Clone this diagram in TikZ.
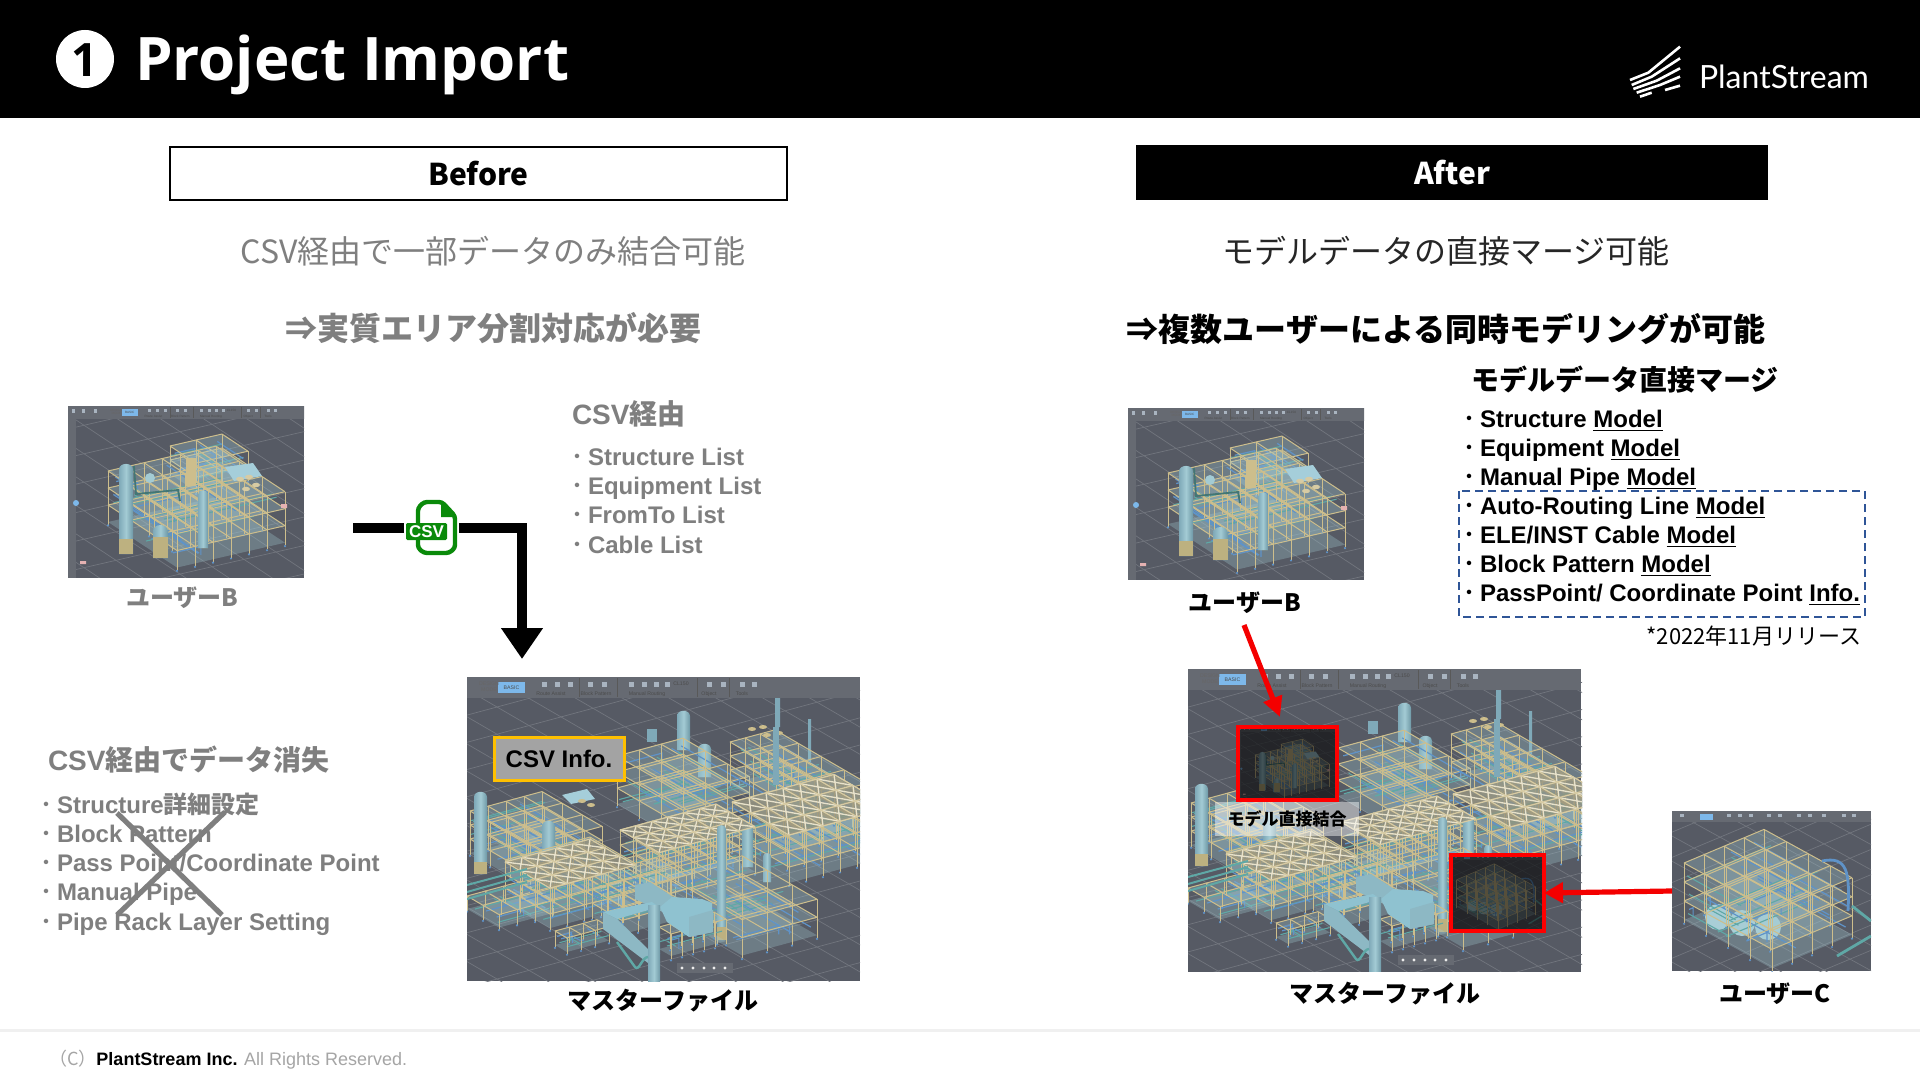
\documentclass[tikz,border=0pt]{standalone}
\usepackage{fontspec}
\setmainfont{Liberation Sans}
\newfontfamily\jp{Noto Sans CJK JP}
\newfontfamily\ttl{Open Sans}
\newfontfamily\lgo{Lato}
\usetikzlibrary{arrows.meta}
\newcommand\jb{\jp\bfseries}
\newcommand\fs[1]{\fontsize{#1}{#1}\selectfont}
\newcommand\bl{\makebox[11.5pt][l]{\hspace*{2pt}\raisebox{1.5pt}{\jb\fs{8}・}}}
\definecolor{scrbg}{HTML}{565A64}
\definecolor{scrbar}{HTML}{666A72}
\definecolor{gridc}{HTML}{72767E}
\definecolor{beamc}{HTML}{CDBE8C}
\definecolor{teal1}{HTML}{5FA8A6}
\definecolor{blue1}{HTML}{5F93C8}
\definecolor{vesL}{HTML}{7FA9B8}
\definecolor{vesR}{HTML}{6E98A6}
\definecolor{vesM}{HTML}{A3CBD4}
\definecolor{tanv}{HTML}{BDB180}
\definecolor{duct}{HTML}{8FC2D0}
\definecolor{gtxt}{HTML}{7F7F7F}
\definecolor{dashb}{HTML}{2F5597}
\definecolor{csvg}{HTML}{0A8A0A}
\definecolor{gold}{HTML}{FFC000}
\definecolor{redm}{HTML}{F40000}
\definecolor{btn}{HTML}{7DB8EA}
\definecolor{icn}{HTML}{A9B4C0}
\def\pw{1}
\tikzset{
  txt/.style={inner sep=0pt,outer sep=0pt},
  beam/.style={draw=beamc,line width=\pw*0.5pt},
  pipeT/.style={draw=teal1,line width=\pw*0.55pt},
  pipeB/.style={draw=blue1,line width=\pw*0.6pt},
  floorf/.style={fill=vesM,fill opacity=0.3},
  grd/.style={draw=gridc,line width=\pw*0.35pt},
  lst/.style={txt,anchor=base west,font=\fs{12}\bfseries},
  glst/.style={lst,text=gtxt},
  tbtxt/.style={txt,transform shape,text=black!70,font=\fs{2.6}},
}
% iso rack: ox oy nu nv nz cu cv ch
\newcommand\rk[8]{%
 \begin{scope}[shift={(#1,#2)},x={({\ux*#6*0.5pt},{-\uy*#6*0.5pt})},y={({\vx*#7*0.5pt},{-\vy*#7*0.5pt})},z={(0pt,{#8*0.5pt})}]
  \foreach \k in {0,...,#5}{\fill[floorf] (0,0,\k)--(#3,0,\k)--(#3,#4,\k)--(0,#4,\k)--cycle;}
  \foreach \rep in {1,2}{\foreach \k in {0,...,#5}{%
   \pgfmathsetmacro\ra{rnd*#4}\pgfmathsetmacro\rb{rnd*#3}\pgfmathsetmacro\rc{rnd*#4}\pgfmathsetmacro\rd{rnd*#3}%
   \ifnum\k<#5
   \draw[pipeT] (0,\ra,\k+.35)--(#3,\ra,\k+.35);
   \draw[pipeB] (\rb,0,\k+.55)--(\rb,#4,\k+.55);
   \draw[pipeB] (0,\rc,\k+.7)--(\rd,\rc,\k+.7)--(\rd,\rc,\k+.2);
   \draw[pipeT] (\rd,0,\k+.25)--(\rd,\ra,\k+.25);
   \fi}}
  \foreach \i in {0,...,#3}{\foreach \j in {0,...,#4}{%
    \draw[beam] (\i,\j,-.15)--(\i,\j,#5);
    \fill[blue1] (\i,\j,-.2) circle[radius=\pw*0.6pt];}}
  \foreach \k in {1,...,#5}{%
   \foreach \i in {0,...,#3}{\draw[beam] (\i,0,\k)--(\i,#4,\k);}
   \foreach \j in {0,...,#4}{\draw[beam] (0,\j,\k)--(#3,\j,\k);}}
 \end{scope}}
% truss roof: ox oy nu nv cu cv
\newcommand\truss[6]{%
 \begin{scope}[shift={(#1,#2)},x={({\ux*#5*0.5pt},{-\uy*#5*0.5pt})},y={({\vx*#6*0.5pt},{-\vy*#6*0.5pt})}]
  \fill[fill=scrbg!45!beamc,fill opacity=.75] (0,0)--(#3,0)--(#3,#4)--(0,#4)--cycle;
  \pgfmathtruncatemacro\nnu{#3-1}\pgfmathtruncatemacro\nnv{#4-1}
  \foreach \i in {0,...,\nnu}{\foreach \j in {0,...,\nnv}{%
    \draw[draw=beamc!45!white,line width=\pw*0.65pt] (\i,\j)--(\i+1,\j+1) (\i+1,\j)--(\i,\j+1);}}
  \foreach \i in {0,...,#3}{\draw[draw=beamc!80!white,line width=\pw*0.6pt] (\i,0)--(\i,#4);}
  \foreach \j in {0,...,#4}{\draw[draw=beamc!80!white,line width=\pw*0.6pt] (0,\j)--(#3,\j);}
 \end{scope}}
% vessel: x1 x2 top bottom tantop
\newcommand\ves[5]{%
 \pgfmathsetmacro\rr{(#2-#1)*0.55}
 \shade[left color=vesL,right color=vesR,middle color=vesM] (#1,#4)--(#1,#3+\rr) .. controls (#1,#3) and (#2,#3) .. (#2,#3+\rr)--(#2,#4)--cycle;
 \fill[tanv] (#1,#5) rectangle (#2,#4);}
\newcommand\scrgrid[1]{%
 \begin{scope}[x={({\ux*#1*0.5pt},{-\uy*#1*0.5pt})},y={({\vx*#1*0.5pt},{-\vy*#1*0.5pt})}]
  \foreach \t in {-14,...,14}{\draw[grd] (\t,-20)--(\t,20);\draw[grd] (-20,\t)--(20,\t);}
 \end{scope}}
% toolbar in master scale
\newcommand\toolbar[1]{%
 \fill[scrbar] (0,0) rectangle (#1,21);
 \fill[btn] (31,5) rectangle (58,16);
 \node[tbtxt] (tbb) at (44.5,10.5) {BASIC};
 \node[tbtxt,text=black!60] (tbd) at (22,10.5) {\begin{tabular}{@{}c@{}}DESIGN\\MODE\end{tabular}};
 \foreach \x in {75,88,101,121,135,162,175,187,198,240,254,273,285}{\fill[icn] (\x,5) rectangle ++(5,5);}
 \node[tbtxt] (tb1) at (84,17) {Route Assist};
 \node[tbtxt] (tb2) at (129,17) {Block Pattern};
 \node[tbtxt] (tb3) at (180,17) {Manual Routing};
 \node[tbtxt] (tb4) at (242,17) {Object};
 \node[tbtxt] (tb5) at (275,17) {Tools};
 \node[tbtxt] (tb6) at (214,7) {CL150};
 \foreach \x in {112,150,230,262}{\draw[gray!70!black,line width=.2pt] (\x,1)--(\x,20);}}
\newcommand\sceneB{%
 \def\ux{1}\def\uy{-0.23}\def\vx{1}\def\vy{0.66}
 \pgfmathsetseed{11}
 \fill[scrbg] (0,0) rectangle (236,172);
 \begin{scope}[shift={(80,90)}]\scrgrid{32}\end{scope}
 \rk{102}{68}{2}{1}{2}{26}{26}{14}
 \rk{40}{116}{6}{3}{3}{18}{23}{17}
 \fill[duct!80!white] (157,61)--(185,57)--(194,70)--(166,75)--cycle;
 \fill[beamc!80!white] (172,73) circle[x radius=4,y radius=2.2] (181,71) circle[x radius=4,y radius=2.2] (178,83) circle[x radius=4,y radius=2.2] (188,79) circle[x radius=4,y radius=2.2];
 \draw[teal1!70!black,line width=\pw*.9pt] (66,60)--(68,88)--(110,84)--(112,95);
 \ves{51}{65}{56}{148}{133}
 \ves{85}{100}{117}{152}{131}
 \ves{130}{140}{83}{142}{142}
 \fill[vesM] (82,72) circle[radius=5];
 \fill[beamc] (118,52) rectangle (128,80);
 \fill[pink!80!gray] (213,98) rectangle (219,102) (12,155) rectangle (18,158);
 \fill[scrbar] (0,0) rectangle (8,172);
 \begin{scope}[shift={(35,0)},scale=.6]\toolbar{340}\end{scope}
 \fill[scrbar] (0,0) rectangle (36,12.6);
 \foreach \x in {4,14,26}{\fill[icn] (\x,3) rectangle ++(3,4);}
 \begin{scope}[shift={(35,0)},scale=.6]\fill[btn] (31,5) rectangle (58,16);\node[tbtxt] (tbbb) at (44.5,10.5) {BASIC};\end{scope}
 \fill[btn] (8,97) circle[radius=3];}
\newcommand\sceneC{%
 \def\ux{1}\def\uy{-0.42}\def\vx{1}\def\vy{0.55}
 \pgfmathsetseed{5}
 \fill[scrbg] (0,0) rectangle (199,160);
 \begin{scope}[shift={(100,80)}]\scrgrid{26}\end{scope}
 \foreach \a/\b in {46/106,70/112,96/116}{\fill[vesM!90!white] (\a,\b) circle[x radius=13,y radius=13];}
 \rk{12}{109}{4}{4}{3}{20}{22}{19}
 \draw[blue1,line width=\pw*1.4pt] (150,50) .. controls (175,45) and (178,60) .. (176,100);
 \draw[teal1,line width=\pw*1.4pt] (180,95)--(199,110) (165,145)--(199,125);
 \fill[scrbar] (0,0) rectangle (199,11);
 \fill[btn] (28,3) rectangle (41,9);
 \foreach \x in {8,55,66,77,95,106,125,136,150,170,180}{\fill[icn] (\x,3) rectangle ++(4,3);}}
\newcommand\masterscene{%
 \def\ux{1}\def\uy{-0.27}\def\vx{1}\def\vy{0.58}
 \pgfmathsetseed{3}
 \fill[scrbg] (0,0) rectangle (393,304);
 \begin{scope}[shift={(190,150)}]\scrgrid{32}\end{scope}
 \ves{210}{223}{32}{73}{73}
 \ves{231}{244}{65}{100}{100}
 \fill[vesL] (308,21) rectangle (313,50) (341,42) rectangle (344,87);
 \fill[vesL] (180,52) rectangle (190,65);
 \rk{150}{127}{3}{3}{3}{22}{22}{16}
 \rk{263}{107}{3}{4}{3}{15}{23}{14}
 \fill[beamc] (285,52) circle[x radius=4,y radius=2] (296,50) circle[x radius=4,y radius=2] (300,58) circle[x radius=4,y radius=2] (312,56) circle[x radius=4,y radius=2];
 \fill[vesL] (306,50) rectangle (312,108);
 \rk{3}{176}{4}{3}{3}{18}{20}{14}
 \fill[duct!80!white] (95,118)--(120,112)--(128,122)--(104,127)--cycle;
 \fill[beamc] (115,124) circle[x radius=4,y radius=2] (124,128) circle[x radius=4,y radius=2];
 \ves{7}{20}{113}{197}{185}
 \ves{75}{88}{142}{175}{175}
 \rk{265}{173}{6}{3}{3}{17}{19}{16}
 \rk{153}{198}{6}{3}{3}{16}{13}{15}
 \ves{275}{286}{145}{190}{190}
 \ves{296}{304}{175}{205}{205}
 \rk{200}{235}{3}{3}{2}{25}{25}{18}
 \rk{0}{232}{3}{2}{1}{18}{16}{13}
 \rk{38}{225}{5}{3}{3}{17}{15}{14}
 \rk{125}{240}{4}{2}{3}{16}{15}{14}
 \truss{265}{125}{6}{3}{17}{19}
 \truss{153}{153}{6}{3}{16}{13}
 \truss{38}{185}{5}{3}{17}{15}
 \draw[teal1,line width=\pw*1pt] (0,215)--(60,198) (0,222)--(60,205) (0,208)--(60,192);
 \ves{250}{259}{147}{263}{250}
 \rk{88}{268}{3}{1}{1}{14}{12}{14}
 \rk{192}{272}{5}{1}{1}{11}{12}{22}
 \fill[duct!85!gray] (168,208)--(183,205)--(206,220)--(206,240)--(190,232)--(168,222)--cycle;
 \fill[duct] (193,230)--(205,220)--(235,222)--(245,226)--(246,255)--(222,260)--(200,245)--cycle;
 \fill[duct!85!gray] (222,240)--(246,233)--(246,255)--(222,260)--cycle;
 \fill[duct] (136,235)--(185,225)--(192,230)--(150,242)--cycle;
 \fill[duct!85!gray] (136,235)--(150,242)--(181,272)--(181,286)--(136,252)--cycle;
 \shade[left color=vesL,right color=vesR,middle color=vesM] (181,228) rectangle (193,304);
 \draw[teal1,line width=\pw*1.2pt] (150,265)--(168,290)..controls (172,295) and (175,280)..(181,280);
 \fill[scrbar] (210,286) rectangle (266,296);
 \foreach \x in {215,226,237,247,258}{\fill[white!85!gray] (\x,291) circle[radius=1.6];}
 \toolbar{393}}
\begin{document}
\begin{tikzpicture}[x=0.5pt,y=-0.5pt]
\useasboundingbox (0,0) rectangle (1920,1080);
\fill[white] (0,0) rectangle (1920,1080);
% header
\fill[black] (0,0) rectangle (1920,118);
\fill[white] (85,59) circle[radius=29];
\node[txt,text=black,font=\ttl\bfseries\fs{23}] (num) at (85,60) {1};
\node[txt,anchor=base west,text=white,font=\ttl\bfseries\fs{30}] (title) at (135,81) {Project Import};
\node[txt,anchor=base west,text=white,font=\lgo\fs{16}] (logotext) at (1699,89) {PlantStream};
\begin{scope}[white,line width=1.3pt,line join=round,shift={(1580,20)},x=0.1667pt,y=-0.1667pt]
 \draw (150,180)--(205,158)--(300,80);
 \draw (155,195)--(215,170)--(300,115);
 \draw (160,207)--(230,182)--(300,145);
 \draw (170,218)--(240,195)--(300,170);
 \draw (180,230)--(215,218) (255,210)--(300,197);
\end{scope}
% headers
\node[txt,draw=black,line width=1pt,fill=white,minimum width=308.5pt,minimum height=26.5pt,font=\jb\fs{15}] (before) at (478.5,173.5) {Before};
\node[txt,fill=black,text=white,minimum width=316pt,minimum height=27.5pt,font=\jb\fs{15}] (after) at (1452,173) {After};
\node[txt,text=gtxt,font=\jp\fs{16}] (h1) at (493,251) {CSV経由で一部データのみ結合可能};
\node[txt,text=gtxt,font=\jb\fs{16}] (h2) at (493,328) {⇒実質エリア分割対応が必要};
\node[txt,text=black!85,font=\jp\fs{16}] (h3) at (1446,251) {モデルデータの直接マージ可能};
\node[txt,text=black,font=\jb\fs{16}] (h4) at (1446,329) {⇒複数ユーザーによる同時モデリングが可能};
% before user B
\begin{scope}[shift={(68,406)}]\clip (0,0) rectangle (236,171);\sceneB\end{scope}
\node[txt,minimum width=118pt,minimum height=85.5pt] (userBa) at (186,491.5) {};
\node[txt,text=gtxt,font=\jb\fs{12}] (userBalabel) at (182.5,598) {ユーザーB};
% CSV list
\node[txt,anchor=west,text=gtxt,font=\fs{14}\bfseries] (csvh) at (572,414) {CSV{\jb 経由}};
\node[glst] (c1) at (565,465) {\bl Structure List};
\node[glst] (c2) at (565,494) {\bl Equipment List};
\node[glst] (c3) at (565,523) {\bl FromTo List};
\node[glst] (c4) at (565,553) {\bl Cable List};
% master left
\begin{scope}[shift={(467,677)}]\clip (0,0) rectangle (393,304);\masterscene\end{scope}
\node[txt,minimum width=196.5pt,minimum height=152pt] (masterA) at (663.5,829) {};
\node[txt,draw=gold,line width=1.5pt,fill=gray!72!white,minimum width=65pt,minimum height=21.5pt,font=\fs{12}\bfseries] (csvinfo) at (559,758.5) {CSV Info.};
\node[txt,text=black,font=\jb\fs{12}] (masterAlabel) at (663,1001) {マスターファイル};
% CSV arrow
\coordinate (cstart) at (353,528);
\coordinate (ctip) at (522,659);
\node[txt,minimum width=27.5pt,minimum height=28pt] (csvicon) at (431.5,528) {};
\draw[black,line width=4.75pt] (cstart)--(csvicon.west);
\draw[black,line width=4.75pt,-{Triangle[length=15.5pt,width=20pt]}] (csvicon.east) -| (ctip);
\draw[csvg,line width=2.2pt,line join=round,rounded corners=1.5pt,fill=white] (424,502)--(442,502)--(455,516)--(455,548)--(449,553)--(424,553)--(418,548)--(418,508)--cycle;
\fill[csvg] (441,501)--(456,517)--(441,517)--cycle;
\fill[csvg,rounded corners=.7pt] (406,523) rectangle (447,540);
\node[txt,text=white,font=\fs{8.5}\bfseries] (csvtext) at (426.5,531.5) {CSV};
% lost data list
\node[txt,anchor=west,text=gtxt,font=\fs{14}\bfseries] (losth) at (48,760) {CSV{\jb 経由でデータ消失}};
\node[glst] (l1) at (34,813) {\bl Structure{\jb 詳細設定}};
\node[glst] (l2) at (34,842) {\bl Block Pattern};
\node[glst] (l3) at (34,871) {\bl Pass Point/Coordinate Point};
\node[glst] (l4) at (34,900) {\bl Manual Pipe};
\node[glst] (l5) at (34,930) {\bl Pipe Rack Layer Setting};
\coordinate (xa) at (117,813);\coordinate (xb) at (222,915);\coordinate (xc) at (225,812);\coordinate (xd) at (117,915);
\draw[gtxt,line width=2.6pt] (xa)--(xb) (xc)--(xd);
% after user B
\begin{scope}[shift={(1128,408)}]\clip (0,0) rectangle (236,171);\sceneB\end{scope}
\node[txt,text=black,font=\jb\fs{12}] (userBblabel) at (1245,603) {ユーザーB};
% right list
\node[txt,text=black,font=\jb\fs{14}] (mh) at (1625,380) {モデルデータ直接マージ};
\node[lst] (r1) at (1457,427) {\bl Structure \underline{Model}};
\node[lst] (r2) at (1457,456) {\bl Equipment \underline{Model}};
\node[lst] (r3) at (1457,485.5) {\bl Manual Pipe \underline{Model}};
\node[lst] (r4) at (1457,514) {\bl Auto-Routing Line \underline{Model}};
\node[lst] (r5) at (1457,543) {\bl ELE/INST Cable \underline{Model}};
\node[lst] (r6) at (1457,572) {\bl Block Pattern \underline{Model}};
\node[lst] (r7) at (1457,601) {\bl PassPoint/ Coordinate Point \underline{Info.}};
\draw[dashb,line width=1pt,dash pattern=on 4pt off 2.5pt] (1459,491) rectangle (1865,617);
\node[txt,anchor=east,text=black,font=\jp\fs{11}] (rel) at (1861,636) {*2022年11月リリース};
% master right
\begin{scope}[shift={(1188,669)}]\clip (0,0) rectangle (394,302);\masterscene\end{scope}
\node[txt,minimum width=197pt,minimum height=151pt] (masterB) at (1385,820) {};
\node[txt,text=black,font=\jb\fs{12}] (masterBlabel) at (1385,994) {マスターファイル};
% insets
\begin{scope}[shift={(1238,727)},xscale=.42,yscale=.43]\def\pw{.45}\clip (0,0) rectangle (236,172);\sceneB\fill[black,opacity=.58] (0,0) rectangle (236,172);\end{scope}
\draw[red,line width=1.6pt] (1238,727) rectangle (1337,800);
\node[txt,fill=white,fill opacity=.45,text opacity=1,minimum width=72pt,minimum height=17pt,font=\jb\fs{8.5}] (direct) at (1287,819) {モデル直接結合};
\begin{scope}[shift={(1451,855)},xscale=.47,yscale=.475]\def\pw{.45}\clip (0,0) rectangle (199,160);\sceneC\fill[black,opacity=.58] (0,0) rectangle (199,160);\end{scope}
\draw[red,line width=1.6pt] (1451,855) rectangle (1544,931);
\node[txt,minimum width=46.5pt,minimum height=38pt] (insetB) at (1497.5,893) {};
\node[txt,minimum width=49.5pt,minimum height=36.5pt] (insetA) at (1287.5,763.5) {};
% user C
\begin{scope}[shift={(1672,811)}]\clip (0,0) rectangle (199,160);\sceneC\end{scope}
\node[txt,minimum width=99.5pt,minimum height=80pt] (userC) at (1771.5,891) {};
\node[txt,text=black,font=\jb\fs{12}] (userClabel) at (1775,994) {ユーザーC};
% red arrows
\coordinate (ra) at (1244,625);\coordinate (rb) at (1280,717);
\draw[redm,line width=2.6pt,-{Triangle[length=10pt,width=9.5pt]}] (ra)--(rb);
\draw[redm,line width=2.6pt,-{Triangle[length=9.5pt,width=10pt]}] (userC.west)--(insetB.east);
% footer
\fill[black!6] (0,1029) rectangle (1920,1032);
\node[txt,anchor=base west,font=\fs{9}] (foot) at (49,1065) {\textcolor{gtxt!70}{\jp（C）}\textbf{PlantStream Inc.} \textcolor{gtxt!70}{All Rights Reserved.}};
\end{tikzpicture}
\end{document}
